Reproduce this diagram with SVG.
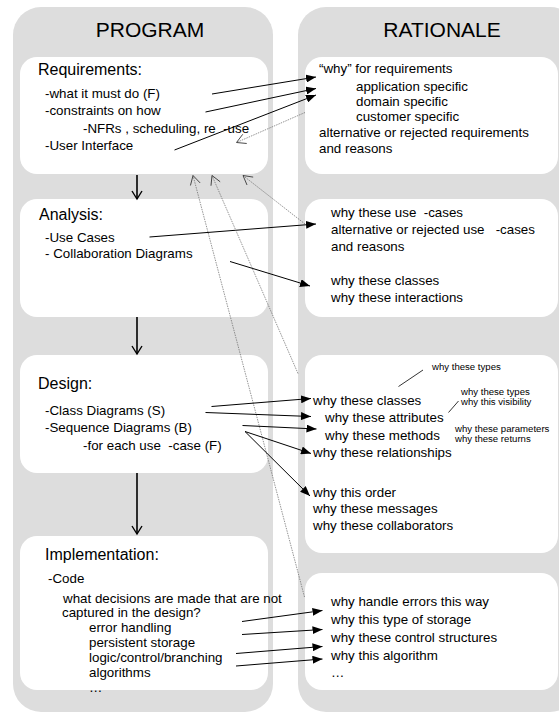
<svg xmlns="http://www.w3.org/2000/svg" width="559" height="713" viewBox="0 0 559 713">
<defs>
<style>
.col{fill:#dddddd;}
.box{fill:#ffffff;}
text{font-family:"Liberation Sans",Arial,sans-serif;fill:#000;white-space:pre;}
.title{font-size:21px;text-anchor:middle;}
.head{font-size:16px;}
.t{font-size:13.35px;}
.s{font-size:9.6px;}
.a{stroke:#000;stroke-width:1;fill:none;marker-end:url(#fa);}
.d{stroke:#000;stroke-width:1.6;fill:none;marker-end:url(#oa);}
.dot{stroke:#666;stroke-width:0.7;stroke-dasharray:1.5 1;fill:none;marker-end:url(#da);}
.ln{stroke:#000;stroke-width:0.8;fill:none;}
</style>
<marker id="fa" markerUnits="userSpaceOnUse" markerWidth="10" markerHeight="8" refX="10" refY="4" orient="auto"><path d="M0,0 L10,4 L0,8 z" fill="#000"/></marker>
<marker id="oa" markerUnits="userSpaceOnUse" markerWidth="12" markerHeight="12" refX="9" refY="6" orient="auto"><path d="M1,1 L9,6 L1,11" fill="none" stroke="#000" stroke-width="1.4"/></marker>
<marker id="da" markerUnits="userSpaceOnUse" markerWidth="12" markerHeight="12" refX="10" refY="6" orient="auto"><path d="M1,1 L10,6 L1,11" fill="none" stroke="#333" stroke-width="0.8"/></marker>
</defs>

<g id="program-column">
<rect class="col" x="13" y="7" width="260" height="705" rx="28"/>
<text class="title" x="150" y="37">PROGRAM</text>
</g>
<g id="rationale-column">
<rect class="col" x="298" y="7" width="280" height="705" rx="28"/>
<text class="title" x="442" y="37">RATIONALE</text>
</g>

<g id="requirements">
<rect class="box" x="20" y="57" width="248" height="117" rx="17"/>
<text class="head" x="38" y="75">Requirements:</text>
<text class="t" x="45" y="97.5">-what it must do (F)</text>
<text class="t" x="45" y="115">-constraints on how</text>
<text class="t" x="83" y="132.5">-NFRs , scheduling, re  -use</text>
<text class="t" x="45" y="150">-User Interface</text>
</g>

<g id="analysis">
<rect class="box" x="20" y="199" width="248" height="118" rx="17"/>
<text class="head" x="39" y="220">Analysis:</text>
<text class="t" x="45" y="241.5">-Use Cases</text>
<text class="t" x="45" y="258">- Collaboration Diagrams</text>
</g>

<g id="design">
<rect class="box" x="20" y="355" width="248" height="118" rx="17"/>
<text class="head" x="38" y="389">Design:</text>
<text class="t" x="45" y="415">-Class Diagrams (S)</text>
<text class="t" x="45" y="432">-Sequence Diagrams (B)</text>
<text class="t" x="83" y="450">-for each use  -case (F)</text>
</g>

<g id="implementation">
<rect class="box" x="20" y="536" width="248" height="154" rx="17"/>
<text class="head" x="45" y="560">Implementation:</text>
<text class="t" x="48" y="583">-Code</text>
<text class="t" x="63" y="603">what decisions are made that are not</text>
<text class="t" x="62" y="616.5">captured in the design?</text>
<text class="t" x="89" y="631.5">error handling</text>
<text class="t" x="89" y="646.5">persistent storage</text>
<text class="t" x="89" y="661.5">logic/control/branching</text>
<text class="t" x="89" y="676.5">algorithms</text>
<text class="t" x="89" y="691.5">…</text>
</g>

<g id="rationale-requirements">
<rect class="box" x="305" y="57" width="253" height="117" rx="17"/>
<text class="t" x="319" y="72.5">“why” for requirements</text>
<text class="t" x="356" y="90.5">application specific</text>
<text class="t" x="356" y="105.5">domain specific</text>
<text class="t" x="356" y="120.5">customer specific</text>
<text class="t" x="319" y="136.5">alternative or rejected requirements</text>
<text class="t" x="319" y="152.5">and reasons</text>
</g>

<g id="rationale-analysis">
<rect class="box" x="305" y="199" width="253" height="118" rx="17"/>
<text class="t" x="331" y="217">why these use  -cases</text>
<text class="t" x="331" y="234">alternative or rejected use   -cases</text>
<text class="t" x="331" y="250.5">and reasons</text>
<text class="t" x="331" y="285">why these classes</text>
<text class="t" x="331" y="301.5">why these interactions</text>
</g>

<g id="rationale-design">
<rect class="box" x="305" y="355" width="253" height="198" rx="17"/>
<text class="s" x="432" y="369.5">why these types</text>
<line class="ln" x1="398.5" y1="386.5" x2="423" y2="370"/>
<text class="t" x="313" y="405">why these classes</text>
<text class="t" x="325" y="421.5">why these attributes</text>
<text class="t" x="325" y="440">why these methods</text>
<text class="t" x="313" y="456.5">why these relationships</text>
<text class="s" x="461" y="394.5">why these types</text>
<text class="s" x="461" y="404.5">why this visibility</text>
<line class="ln" x1="448.5" y1="412.5" x2="458.5" y2="401"/>
<text class="s" x="455" y="431.5">why these parameters</text>
<text class="s" x="455" y="441.5">why these returns</text>
<text class="t" x="313" y="496.5">why this order</text>
<text class="t" x="313" y="513">why these messages</text>
<text class="t" x="313" y="530">why these collaborators</text>
</g>

<g id="rationale-implementation">
<rect class="box" x="305" y="573" width="253" height="117" rx="17"/>
<text class="t" x="331" y="606">why handle errors this way</text>
<text class="t" x="331" y="623.5">why this type of storage</text>
<text class="t" x="331" y="641.5">why these control structures</text>
<text class="t" x="331" y="660">why this algorithm</text>
<text class="t" x="331" y="677">…</text>
</g>

<g id="connectors">
<line class="d" x1="137" y1="175" x2="137" y2="199"/>
<line class="d" x1="137" y1="317" x2="137" y2="354"/>
<line class="d" x1="137" y1="473" x2="137" y2="534"/>

<line class="a" x1="212" y1="94" x2="316" y2="77"/>
<line class="a" x1="205.5" y1="112" x2="316" y2="88.5"/>
<line class="a" x1="174.5" y1="150" x2="316" y2="95"/>
<line class="dot" x1="305" y1="112.5" x2="236.5" y2="142.5"/>

<line class="a" x1="149.5" y1="237" x2="316" y2="224"/>
<line class="a" x1="230" y1="261.5" x2="310" y2="286"/>

<line class="dot" x1="305" y1="224" x2="243" y2="175.5"/>
<line class="dot" x1="298" y1="373.5" x2="212" y2="175.5"/>
<line class="dot" x1="304.5" y1="597" x2="193" y2="175.5"/>

<line class="a" x1="211.5" y1="406.5" x2="311" y2="398.5"/>
<line class="a" x1="205.5" y1="412.5" x2="311" y2="416.5"/>
<line class="a" x1="242.5" y1="425.5" x2="316.5" y2="429"/>
<line class="a" x1="245" y1="431.5" x2="311" y2="453.5"/>
<line class="a" x1="245" y1="431.5" x2="310" y2="496"/>

<line class="a" x1="242" y1="621.5" x2="322.5" y2="610.5"/>
<line class="a" x1="242" y1="634.5" x2="322.5" y2="629.5"/>
<line class="a" x1="236" y1="653.5" x2="322.5" y2="646.5"/>
<line class="a" x1="236" y1="666" x2="322.5" y2="659"/>
</g>
</svg>
